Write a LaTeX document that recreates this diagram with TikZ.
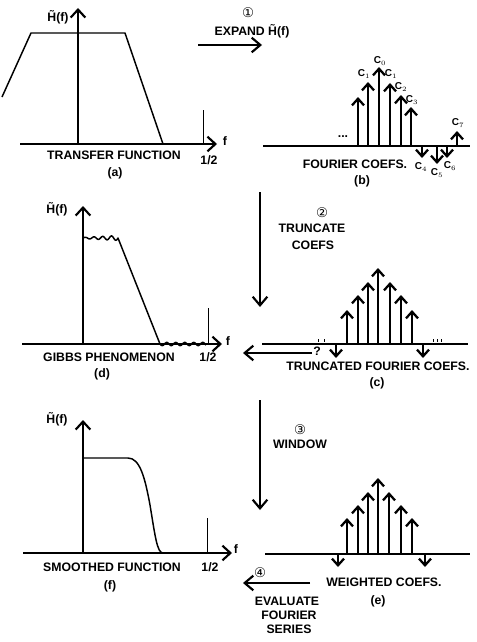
\documentclass[tikz,border=0pt]{standalone}
\usepackage{fontspec}
\setmainfont{Liberation Sans}
\newfontfamily\circfont{DejaVu Sans}
\usetikzlibrary{positioning,arrows.meta}
\tikzstyle{lbl} = [font=\bfseries\fontsize{9.2}{10}\selectfont, inner sep=0pt]
\tikzstyle{sub} = [font=\bfseries\fontsize{7.5}{8}\selectfont, inner sep=0pt]
\tikzstyle{num} = [font=\circfont\fontsize{10}{10}\selectfont, inner sep=0pt]
\tikzstyle{axis} = [line width=1.2pt, -{Straight Barb[length=6pt,width=11pt,line width=1.6pt]}]
\tikzstyle{tick} = [line width=0.6pt]
\tikzstyle{curve} = [line width=1.1pt, line join=round]
\tikzstyle{stem} = [line width=0.8pt, -{Straight Barb[length=5pt,width=9pt,line width=1.7pt]}]
\tikzstyle{flow} = [line width=0.8pt, -{Straight Barb[length=6.5pt,width=11pt,line width=1.6pt]}]

\begin{document}
\begin{tikzpicture}[x=0.75pt, y=-0.75pt]
\useasboundingbox (0,0) rectangle (477,642);

\draw[axis] (20,144) -- (217,144);
\draw[axis] (78,144) -- (78,8);
\draw[tick] (203,110) -- (203,144);
\draw[curve] (2,97) -- (31,33) -- (125,33) -- (163,144);
\node[lbl] (ha) at (58,17) {\~{H}(f)};
\node[lbl] (fa) at (225,141) {f};
\node[lbl] (halfa) at (209,160) {1/2};
\node[lbl] (tf) at (114,155) {TRANSFER FUNCTION};
\node[lbl] (pa) at (115,173) {(a)};

\node[num] (n1) at (248,13) {①};
\node[lbl] (expand) at (252,31) {EXPAND \~{H}(f)};
\coordinate (e1a) at (198,45);
\coordinate (e1b) at (262,45);
\draw[flow] (e1a) -- (e1b);

\draw[line width=1.1pt] (263,146) -- (470,146);
\node[lbl] (dots) at (343,137) {...};
\foreach \x/\t in {358/97,368/82,379/67,390/83,401/95,411/107,457/131}
  \draw[stem] (\x,146) -- (\x,\t);
\foreach \x/\t in {422/158,437/164,447/158}
  \draw[stem] (\x,146) -- (\x,\t);
\node[sub] (c1l) at (364,74) {C$_{1}$};
\node[sub] (c0) at (380,61) {C$_{0}$};
\node[sub] (c1) at (391,74) {C$_{1}$};
\node[sub] (c2) at (401,87) {C$_{2}$};
\node[sub] (c3) at (412,100) {C$_{3}$};
\node[sub] (c7) at (458,123) {C$_{7}$};
\node[sub] (c4) at (421,167) {C$_{4}$};
\node[sub] (c5) at (437,173) {C$_{5}$};
\node[sub] (c6) at (450,166) {C$_{6}$};
\node[lbl] (fc) at (355,164) {FOURIER COEFS.};
\node[lbl] (pb) at (362,181) {(b)};

\coordinate (e2a) at (260,192);
\coordinate (e2b) at (260,307);
\draw[flow] (e2a) -- (e2b);
\node[num] (n2) at (322,213) {②};
\node[lbl] (trunc) at (312,228) {TRUNCATE};
\node[lbl] (coefs) at (313,245) {COEFS};

\draw[axis] (22,344) -- (222,344);
\draw[axis] (83,344) -- (83,206);
\draw[tick] (208,308) -- (208,344);
\draw[curve] plot[domain=83:118, samples=80] (\x,{238-(0.6+1.8*(\x-83)/35)*sin(41.14*(\x-83))}) -- (160,344)
  -- plot[domain=160:206, samples=80] (\x,{344+1.6*sin(40*(\x-160))});
\node[lbl] (hd) at (57,209) {\~{H}(f)};
\node[lbl] (fd) at (228,341) {f};
\node[lbl] (halfd) at (208,357) {1/2};
\node[lbl] (gibbs) at (109,357) {GIBBS PHENOMENON};
\node[lbl] (pd) at (102,374) {(d)};

\draw[line width=1.1pt] (262,344) -- (468,344);
\foreach \x/\t in {347/310,358/295,368/282,378/268,390/282,401/295,412/310}
  \draw[stem] (\x,344) -- (\x,\t);
\foreach \x in {336,423}
  \draw[stem] (\x,344) -- (\x,358);
\foreach \x in {318,324,433,437,441}
  \draw[tick] (\x,339) -- (\x,342);
\node[lbl] (qm) at (317,351) {?};
\coordinate (e5a) at (312,353);
\coordinate (e5b) at (243,353);
\draw[flow] (e5a) -- (e5b);
\node[lbl] (tfc) at (378,366) {TRUNCATED FOURIER COEFS.};
\node[lbl] (pc) at (377,383) {(c)};

\coordinate (e3a) at (260,400);
\coordinate (e3b) at (260,510);
\draw[flow] (e3a) -- (e3b);
\node[num] (n3) at (300,430) {③};
\node[lbl] (window) at (300,444) {WINDOW};

\draw[axis] (23,553) -- (232,553);
\draw[axis] (83,553) -- (83,420);
\draw[tick] (207,518) -- (207,553);
\draw[curve] (83,458) -- (128,458) .. controls (140,458) and (145,478) .. (150,505)
  .. controls (155,535) and (157,553) .. (163,553);
\node[lbl] (hf) at (57,419) {\~{H}(f)};
\node[lbl] (ff) at (236,549) {f};
\node[lbl] (halff) at (210,567) {1/2};
\node[lbl] (smooth) at (112,567) {SMOOTHED FUNCTION};
\node[lbl] (pf) at (110,586) {(f)};

\draw[line width=1.1pt] (265,554) -- (470,554);
\foreach \x/\t in {347/518,358/505,368/492,378/478,389/492,401/505,412/518}
  \draw[stem] (\x,554) -- (\x,\t);
\foreach \x in {338,425}
  \draw[stem] (\x,554) -- (\x,567);
\node[lbl] (wc) at (384,582) {WEIGHTED COEFS.};
\node[lbl] (pe) at (378,601) {(e)};

\node[num] (n4) at (260,573) {④};
\coordinate (e4a) at (310,583);
\coordinate (e4b) at (243,583);
\draw[flow] (e4a) -- (e4b);
\node[lbl] (eval) at (287,601) {EVALUATE};
\node[lbl] (four) at (289,615) {FOURIER};
\node[lbl] (series) at (289,629) {SERIES};
\end{tikzpicture}
\end{document}
